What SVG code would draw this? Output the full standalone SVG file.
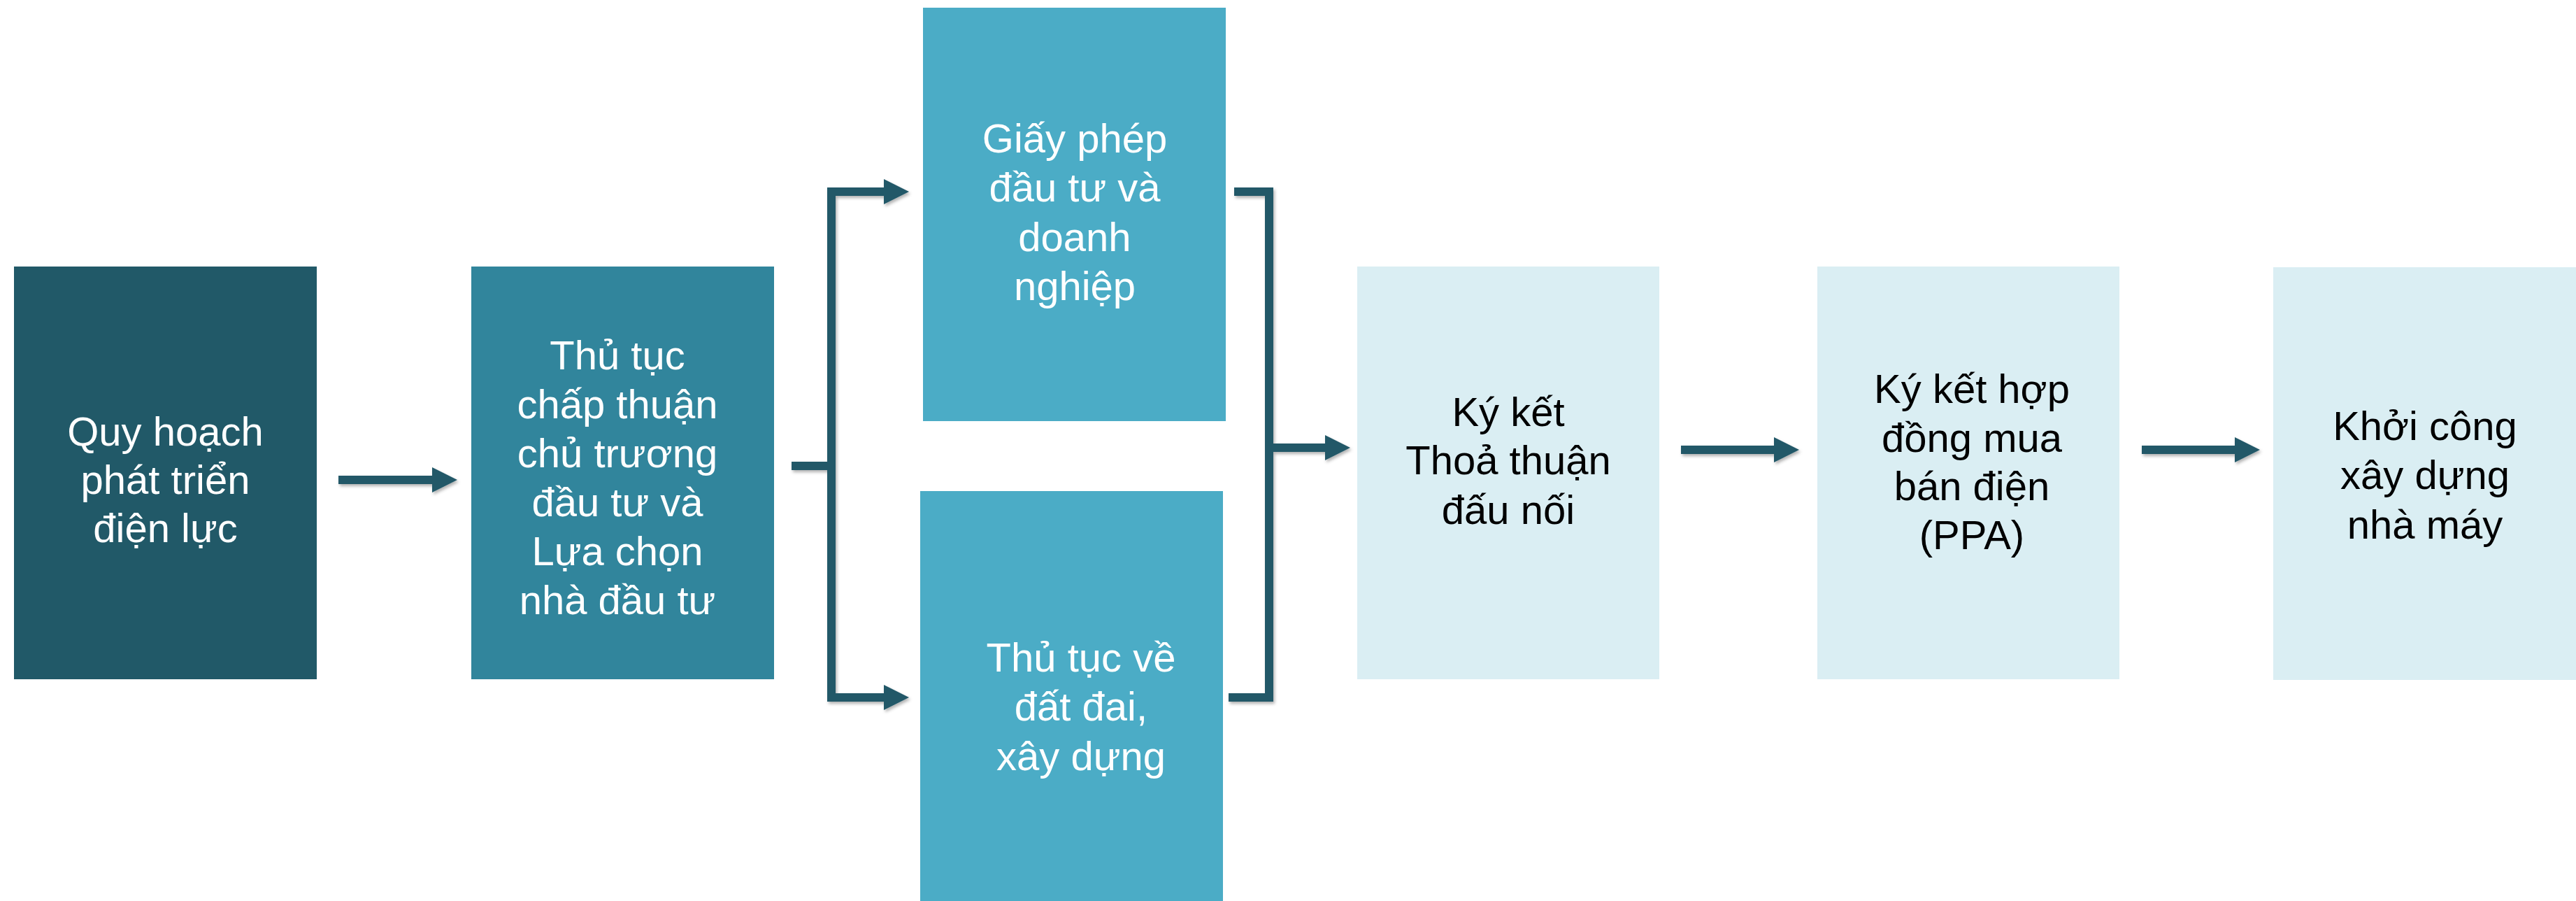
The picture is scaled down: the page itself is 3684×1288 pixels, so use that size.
<svg xmlns="http://www.w3.org/2000/svg" width="3684" height="1288" viewBox="0 0 3684 1288">
<style>
  .t { font-family: "Liberation Sans", Arial, sans-serif; font-size: 58px; text-anchor: middle; }
  .w { fill: #ffffff; }
  .k { fill: #000000; }
  .c { fill: none; stroke: #215968; stroke-width: 12; stroke-linecap: butt; stroke-linejoin: miter; }
</style>
<defs>
  <filter id="sh" x="-10%" y="-10%" width="120%" height="120%">
    <feDropShadow dx="2" dy="3" stdDeviation="2" flood-color="#000000" flood-opacity="0.3"/>
  </filter>
  <marker id="ah" markerUnits="userSpaceOnUse" viewBox="0 0 36 36" markerWidth="36" markerHeight="36" refX="0" refY="18" orient="auto">
    <path d="M0,0 L36,18 L0,36 Z" fill="#215968"/>
  </marker>
</defs>
<rect width="3684" height="1288" fill="#ffffff"/>

<g id="n1">
  <rect x="20" y="381" width="433" height="590" fill="#215968"/>
  <text class="t w"><tspan x="236.5" y="637">Quy hoạch</tspan><tspan x="236.5" y="706">phát triển</tspan><tspan x="236.5" y="775">điện lực</tspan></text>
</g>
<g id="n2">
  <rect x="674" y="381" width="433" height="590" fill="#31859c"/>
  <text class="t w"><tspan x="883" y="528">Thủ tục</tspan><tspan x="883" y="598">chấp thuận</tspan><tspan x="883" y="668">chủ trương</tspan><tspan x="883" y="738">đầu tư và</tspan><tspan x="883" y="808">Lựa chọn</tspan><tspan x="883" y="878">nhà đầu tư</tspan></text>
</g>
<g id="n3">
  <rect x="1320" y="11" width="433" height="591" fill="#4bacc6"/>
  <text class="t w"><tspan x="1537" y="218">Giấy phép</tspan><tspan x="1537" y="288">đầu tư và</tspan><tspan x="1537" y="359">doanh</tspan><tspan x="1537" y="429">nghiệp</tspan></text>
</g>
<g id="n4">
  <rect x="1316" y="702" width="433" height="600" fill="#4bacc6"/>
  <text class="t w"><tspan x="1546" y="960">Thủ tục về</tspan><tspan x="1546" y="1030">đất đai,</tspan><tspan x="1546" y="1101">xây dựng</tspan></text>
</g>
<g id="n5">
  <rect x="1941" y="381" width="432" height="590" fill="#daeef3"/>
  <text class="t k"><tspan x="2157" y="609">Ký kết</tspan><tspan x="2157" y="678">Thoả thuận</tspan><tspan x="2157" y="749">đấu nối</tspan></text>
</g>
<g id="n6">
  <rect x="2599" y="381" width="432" height="590" fill="#daeef3"/>
  <text class="t k"><tspan x="2820" y="576">Ký kết hợp</tspan><tspan x="2820" y="646">đồng mua</tspan><tspan x="2820" y="715">bán điện</tspan><tspan x="2820" y="785">(PPA)</tspan></text>
</g>
<g id="n7">
  <rect x="3251" y="382" width="433" height="590" fill="#daeef3"/>
  <text class="t k"><tspan x="3468" y="629">Khởi công</tspan><tspan x="3468" y="699">xây dựng</tspan><tspan x="3468" y="770">nhà máy</tspan></text>
</g>

<g id="connectors" filter="url(#sh)">
  <path class="c" d="M484,686 H618" marker-end="url(#ah)"/>
  <path class="c" d="M1132,666 H1189"/>
  <path class="c" d="M1264,274 H1189 V997 H1264"/>
  <path class="c" d="M1189,274 H1264" marker-end="url(#ah)"/>
  <path class="c" d="M1189,997 H1264" marker-end="url(#ah)"/>
  <path class="c" d="M1765,274 H1815 V997 H1757"/>
  <path class="c" d="M1815,640 H1895" marker-end="url(#ah)"/>
  <path class="c" d="M2404,643 H2537" marker-end="url(#ah)"/>
  <path class="c" d="M3063,643 H3196" marker-end="url(#ah)"/>
</g>
</svg>
